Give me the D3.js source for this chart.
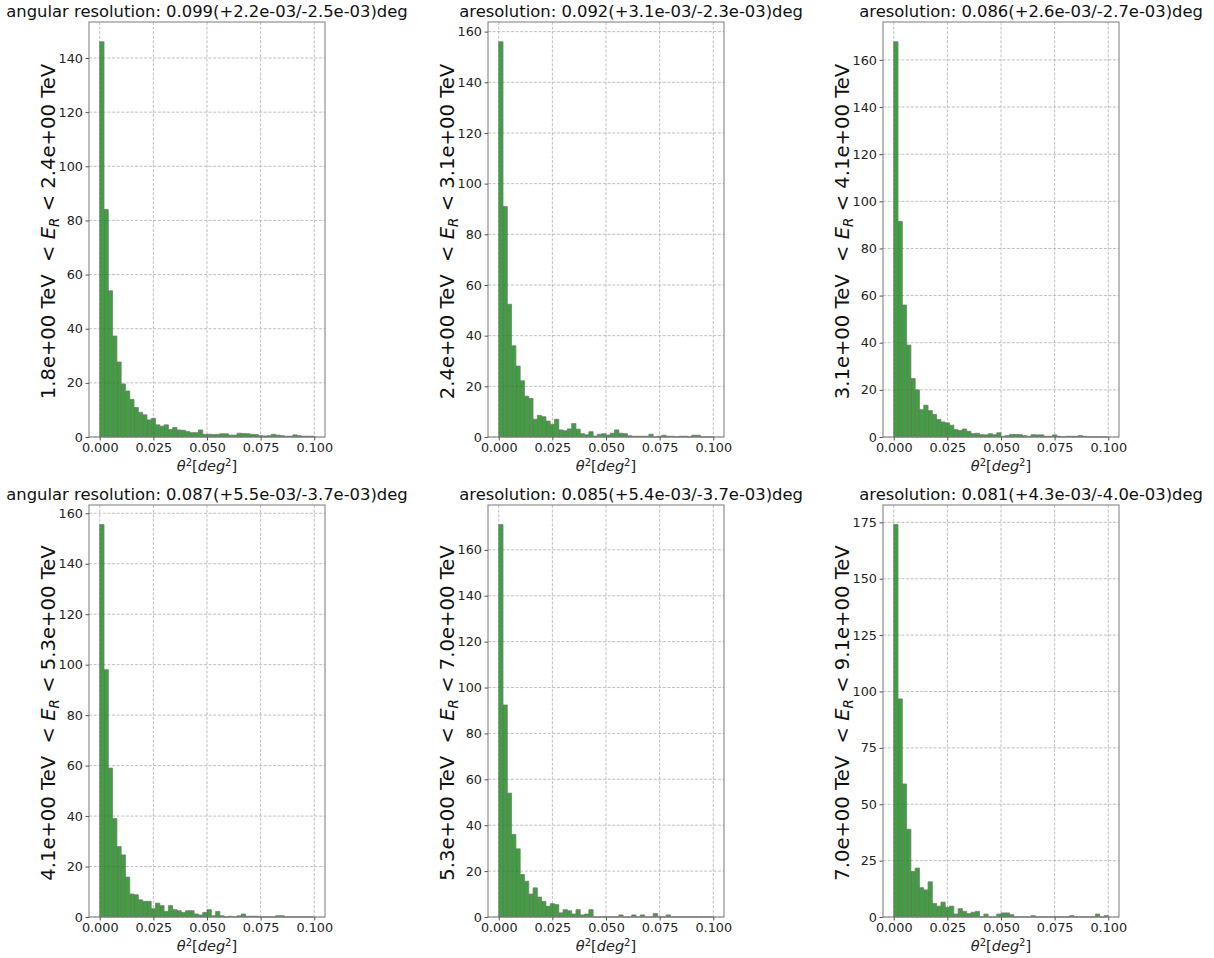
<!DOCTYPE html>
<html>
<head>
<meta charset="utf-8">
<script src="https://cdn.jsdelivr.net/npm/d3@7"></script>
<style>
  html, body { margin: 0; padding: 0; background: #fff; }
  svg { display: block; font-family: "DejaVu Sans", sans-serif; }
  text { white-space: pre; }
</style>
</head>
<body>
<svg id="chart" width="1214" height="958"></svg>
<script>
// ---- data ----
const binLow = 0.0, binHigh = 0.1;           // histogram range (deg^2)
const xTicks = [0, 0.025, 0.05, 0.075, 0.1];

const titles = [
  "angular resolution: 0.099(+2.2e-03/-2.5e-03)deg",
  "aresolution: 0.092(+3.1e-03/-2.3e-03)deg",
  "aresolution: 0.086(+2.6e-03/-2.7e-03)deg",
  "angular resolution: 0.087(+5.5e-03/-3.7e-03)deg",
  "aresolution: 0.085(+5.4e-03/-3.7e-03)deg",
  "aresolution: 0.081(+4.3e-03/-4.0e-03)deg"
];
const eLow  = ["1.8e+00", "2.4e+00", "3.1e+00", "4.1e+00", "5.3e+00", "7.0e+00"];
const eHigh = ["2.4e+00", "3.1e+00", "4.1e+00", "5.3e+00", "7.0e+00", "9.1e+00"];

const hist1 = [146, 84, 54, 37.3, 27.7, 19.6, 17, 13.9, 10.9, 9.1,
               8.2, 6.3, 6.9, 4.5, 4.0, 4.5, 2.8, 3.5, 2.6, 2.5,
               2.0, 1.6, 1.6, 2.6, 1.0, 1.0, 0.9, 1.0, 1.2, 1.2,
               0.7, 0.7, 1.4, 1.3, 1.2, 1.0, 0.9, 0.5, 0.4, 0.5,
               1.0, 0.7, 0.5, 0.3, 0.3, 0.8, 0.5, 0.3, 0.3, 0.3];
const hist2 = [156, 91, 52.4, 36, 28, 22.2, 16.1, 15.2, 7, 8.5,
               8, 6.3, 5, 7, 2.8, 2.5, 3.2, 5.3, 3.1, 1.3,
               0.9, 2.1, 0.4, 1.1, 1.3, 0.8, 1.5, 2.8, 1.5, 1.3,
               0.5, 0.3, 0.3, 0.3, 0.3, 1.1, 0, 0.3, 0.7, 0.3,
               0.3, 0, 0.3, 0.3, 0, 0.7, 0.7, 0, 0, 0];
const hist3 = [167.7, 91.5, 56, 39, 24.8, 20, 11.6, 13.5, 11.2, 9.6,
               7.4, 6.4, 6, 5, 3.1, 2.8, 3.4, 2.4, 1.4, 1.6,
               1, 0.9, 1.4, 1, 1.8, 0.3, 0.6, 1.1, 1.1, 1,
               0.6, 0.3, 1, 0.9, 0.9, 0.3, 0.3, 0.9, 0.3, 0,
               0.3, 0.3, 0.3, 0.6, 0.3, 0, 0, 0, 0, 0];
const hist4 = [155.5, 98, 59, 39, 27.9, 24.6, 15.8, 9.1, 8.8, 6.8,
               6.2, 6.2, 3.3, 5.5, 4.5, 2.2, 4.5, 2.9, 2.5, 1.8,
               2.5, 2.5, 1.2, 0.8, 1.8, 2.9, 0.5, 2.2, 0.5, 0,
               0.3, 0, 0.5, 1.2, 0.3, 0.3, 0.3, 0, 0, 0,
               0, 0.5, 0.5, 0, 0, 0, 0, 0, 0, 0];
const hist5 = [171, 92.4, 54, 36, 29.7, 18.5, 15.6, 10, 12.7, 8.7,
               6.8, 4.7, 5.8, 5.4, 1.8, 3.2, 2.7, 1.3, 3.2, 0.9,
               1.3, 3.2, 0, 0, 0, 0, 0, 0, 0.9, 0,
               0, 0.9, 0, 0.9, 0, 0, 1.5, 0, 0, 0.9,
               0, 0, 0, 0, 0, 0, 0, 0, 0, 0];
const hist6 = [174, 96.7, 59, 38.9, 20.2, 21.7, 13, 12, 15.6, 6,
               4.8, 6.6, 4.3, 4.8, 1.3, 3.7, 2.5, 1.5, 2.1, 2.5,
               0, 1.3, 0, 0, 1.3, 1.8, 1.8, 1, 0, 0,
               0, 0, 0.6, 0, 0, 0, 0, 0, 0, 0,
               0, 0.6, 0, 0, 0, 0, 0, 1.3, 0, 0.6];
const hists = [hist1, hist2, hist3, hist4, hist5, hist6];
const yTickSets = [
  [0, 20, 40, 60, 80, 100, 120, 140],
  [0, 20, 40, 60, 80, 100, 120, 140, 160],
  [0, 20, 40, 60, 80, 100, 120, 140, 160],
  [0, 20, 40, 60, 80, 100, 120, 140, 160],
  [0, 20, 40, 60, 80, 100, 120, 140, 160],
  [0, 25, 50, 75, 100, 125, 150, 175]
];

// ---- layout ----
const colLeft = [89, 488, 883];
const plotW = 236;
const rowTop = [22, 505];
const rowH = [415, 412];

const svg = d3.select("#chart");
const gridColor = "#b0b0b0";
const spineColor = "#7a7a7a";

hists.forEach((vals, i) => {
  const c = i % 3, r = Math.floor(i / 3);
  const L = colLeft[c], T = rowTop[r], H = rowH[r];
  const g = svg.append("g").attr("transform", `translate(${L},${T})`);
  const n = vals.length;
  const bw = (binHigh - binLow) / n;
  const xPad = (binHigh - binLow) * 0.05;
  const x = d3.scaleLinear().domain([binLow - xPad, binHigh + xPad]).range([0, plotW]);
  const yMax = d3.max(vals) * 1.05;
  const y = d3.scaleLinear().domain([0, yMax]).range([H, 0]);

  // grid
  const yt = yTickSets[i];
  g.append("g").selectAll("line.gx").data(xTicks).join("line")
    .attr("x1", d => x(d)).attr("x2", d => x(d)).attr("y1", 0).attr("y2", H)
    .attr("stroke", gridColor).attr("stroke-width", 0.8).attr("stroke-dasharray", "3,1.6");
  g.append("g").selectAll("line.gy").data(yt).join("line")
    .attr("x1", 0).attr("x2", plotW).attr("y1", d => y(d)).attr("y2", d => y(d))
    .attr("stroke", gridColor).attr("stroke-width", 0.8).attr("stroke-dasharray", "3,1.6");

  // bars
  g.append("g").selectAll("path").data(vals).join("path")
    .attr("d", (d, k) => {
      const x0 = x(binLow + k * bw), x1 = x(binLow + (k + 1) * bw);
      const y0 = y(0), y1 = y(d);
      return `M${x0},${y0}V${y1}H${x1}V${y0}Z`;
    })
    .attr("fill", "rgba(0,132,0,0.76)")
    .attr("stroke", "rgba(120,120,120,0.85)")
    .attr("stroke-width", 0.9);

  // spines
  g.append("rect").attr("x", 0).attr("y", 0).attr("width", plotW).attr("height", H)
    .attr("fill", "none").attr("stroke", spineColor).attr("stroke-width", 1);

  // x axis
  const xa = g.append("g").attr("transform", `translate(0,${H})`)
    .call(d3.axisBottom(x).tickValues(xTicks).tickFormat(d3.format(".3f")).tickSize(3.5).tickPadding(2));
  xa.select(".domain").remove();
  xa.selectAll("line").attr("stroke", "#555");
  xa.selectAll("text").attr("font-size", "12.8px").attr("fill", "#222")
    .attr("font-family", "DejaVu Sans, sans-serif");

  // y axis
  const ya = g.append("g")
    .call(d3.axisLeft(y).tickValues(yt).tickFormat(d3.format("d")).tickSize(3.5).tickPadding(2.5));
  ya.select(".domain").remove();
  ya.selectAll("line").attr("stroke", "#555");
  ya.selectAll("text").attr("font-size", "12.8px").attr("fill", "#222")
    .attr("font-family", "DejaVu Sans, sans-serif");

  // x label
  const xl = g.append("text").attr("x", plotW / 2).attr("y", H + 34)
    .attr("text-anchor", "middle").attr("font-size", "14.5px").attr("fill", "#222");
  xl.append("tspan").attr("font-style", "italic").text("θ");
  xl.append("tspan").attr("font-size", "10px").attr("dy", -5).text("2");
  xl.append("tspan").attr("dy", 5).text("[");
  xl.append("tspan").attr("font-style", "italic").text("deg");
  xl.append("tspan").attr("font-size", "10px").attr("dy", -5).text("2");
  xl.append("tspan").attr("dy", 5).text("]");

  // y label
  const yl = g.append("text")
    .attr("transform", `translate(${-34},${H / 2 + 2}) rotate(-90)`)
    .attr("text-anchor", "middle").attr("font-size", "19.6px").attr("fill", "#111");
  yl.append("tspan").text(`${eLow[i]} TeV  < `);
  yl.append("tspan").attr("font-style", "italic").text("E");
  yl.append("tspan").attr("font-style", "italic").attr("font-size", "13.5px").attr("dy", 4).text("R");
  yl.append("tspan").attr("dy", -4).text(` < ${eHigh[i]} TeV`);

  // title
  const isFull = c === 0;
  svg.append("text")
    .attr("x", isFull ? L + plotW / 2 : (c === 1 ? 803 : 1203))
    .attr("y", T - 5)
    .attr("text-anchor", isFull ? "middle" : "end")
    .attr("font-size", "16.4px").attr("fill", "#111")
    .text(titles[i]);
});
</script>
</body>
</html>
